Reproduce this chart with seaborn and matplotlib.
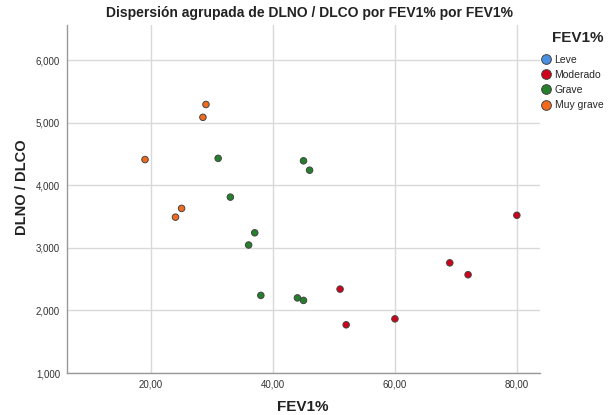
import matplotlib
matplotlib.use("Agg")
import matplotlib.pyplot as plt
from matplotlib.lines import Line2D
from matplotlib.ticker import FuncFormatter
import seaborn as sns
import pandas as pd

categories = ["Leve", "Moderado", "Grave", "Muy grave"]
colors = ["#4A90E2", "#D0021B", "#24802A", "#F26A1B"]

mod_x = [51, 52, 60, 69, 72, 80]
mod_y = [2340, 1770, 1865, 2760, 2570, 3520]
grave_x = [31, 45, 46, 33, 37, 36, 38, 44, 45]
grave_y = [4430, 4390, 4240, 3810, 3240, 3045, 2240, 2200, 2160]
muy_x = [29, 28.5, 19, 25, 24]
muy_y = [5290, 5085, 4410, 3630, 3490]

df = pd.DataFrame({
    "FEV1": mod_x + grave_x + muy_x,
    "ratio": mod_y + grave_y + muy_y,
    "grupo": ["Moderado"] * len(mod_x) + ["Grave"] * len(grave_x) + ["Muy grave"] * len(muy_x),
})

sns.set_style("white")
plt.rcParams["font.family"] = ["Liberation Sans", "DejaVu Sans"]

fig = plt.figure(figsize=(6.08, 4.15), dpi=100)
ax = fig.add_axes([67 / 608, 1 - 373 / 415, (540 - 67) / 608, (373 - 25) / 415])

palette = dict(zip(categories, colors))
sns.scatterplot(data=df, x="FEV1", y="ratio", hue="grupo", hue_order=categories,
                palette=palette, s=22, edgecolor="#444444", linewidth=0.7,
                legend=False, ax=ax, zorder=3)

ax.set_xlim(6.2, 83.8)
ax.set_ylim(1000, 6560)
ax.set_xticks([20, 40, 60, 80])
ax.set_yticks([1000, 2000, 3000, 4000, 5000, 6000])
ax.xaxis.set_major_formatter(FuncFormatter(lambda v, p: f"{v:.2f}".replace(".", ",")))
ax.yaxis.set_major_formatter(FuncFormatter(lambda v, p: f"{v/1000:.3f}".replace(".", ",")))
ax.tick_params(axis="both", length=0, labelsize=7, labelcolor="#333333", pad=5)
ax.grid(True, color="#d9d9d9", linewidth=1.0, zorder=0)
ax.set_axisbelow(True)
for s in ["top", "right"]:
    ax.spines[s].set_visible(False)
for s in ["left", "bottom"]:
    ax.spines[s].set_color("#999999")
    ax.spines[s].set_linewidth(1.0)

ax.set_xlabel("FEV1%", fontsize=11, fontweight="bold", color="#222222", va="center")
ax.set_ylabel("DLNO / DLCO", fontsize=10.5, fontweight="bold", color="#222222", va="center")
ax.xaxis.set_label_coords((303 - 67) / 473, (373 - 407) / 348)
ax.yaxis.set_label_coords((22 - 67) / 473, (373 - 187) / 348)
fig.text(310 / 608, 1 - 13 / 415, "Dispersión agrupada de DLNO / DLCO por FEV1% por FEV1%",
         ha="center", va="center", fontsize=10, fontweight="bold", color="#222222")

handles = [Line2D([0], [0], marker="o", linestyle="", markersize=7,
                  markerfacecolor=c, markeredgecolor="#444444", markeredgewidth=0.7)
           for c in colors]
leg = fig.legend(handles, categories, title="FEV1%", loc="upper left",
                 bbox_to_anchor=(541 / 608, 1 - 31 / 415), frameon=False,
                 fontsize=7.5, handletextpad=0.3, handlelength=1.0,
                 labelspacing=0.5, borderaxespad=0, borderpad=0)
leg.get_title().set_fontweight("bold")
leg.get_title().set_fontsize(11)
leg._legend_box.align = "right"
leg._legend_box.sep = 7

fig.savefig("out.png", dpi=100)
